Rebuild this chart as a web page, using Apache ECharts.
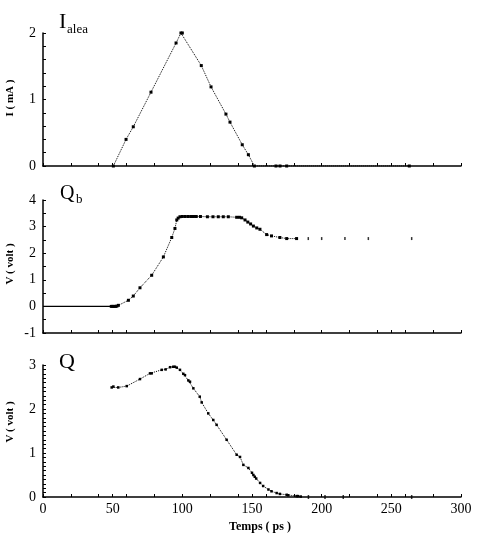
<!DOCTYPE html>
<html><head><meta charset="utf-8">
<script src="https://cdn.jsdelivr.net/npm/echarts@6/dist/echarts.min.js"></script>
<style>html,body{margin:0;padding:0;background:#fff}#c{width:477px;height:536px}</style>
</head><body><div id="c"></div>
<script>
// Top panel: I_alea (mA) vs time (ps)
var ialeaX = [50.5, 59.6, 64.8, 77.5, 95.5, 99, 100, 113.6, 120.6, 131.3, 134.2, 143, 147.4, 151.7, 167.2, 170.1, 174.9, 262.9];
var ialeaY = [0, 0.4, 0.59, 1.11, 1.85, 2.0, 2.0, 1.51, 1.19, 0.78, 0.66, 0.32, 0.17, 0, 0, 0, 0, 0];
// Middle panel: Qb (V)
var qbBaseX = [0, 50];
var qbBaseY = [0, 0];
var qbX = [49, 50, 51, 52, 53, 54.1, 61.3, 64.8, 69.6, 78, 86.4, 92.4, 94.7, 96, 97, 98.3, 100, 102, 104, 106, 108, 110, 113, 118, 122, 125.8, 129.4, 133, 139, 141, 142.6, 145, 147, 149, 151, 153.4, 155.7, 160.5, 164, 170, 174.9, 182];
var qbY = [0, 0, 0, 0, 0.01, 0.04, 0.23, 0.39, 0.70, 1.17, 1.86, 2.59, 2.93, 3.25, 3.32, 3.37, 3.38, 3.38, 3.38, 3.38, 3.38, 3.38, 3.38, 3.37, 3.37, 3.37, 3.37, 3.37, 3.35, 3.35, 3.33, 3.25, 3.17, 3.10, 3.02, 2.95, 2.90, 2.70, 2.65, 2.59, 2.55, 2.55];
var qbTailX = [190.4, 200, 216.7, 233.5, 264.6];
var qbTailY = [2.55, 2.55, 2.55, 2.55, 2.55];
// Bottom panel: Q (V)
var qX = [49.3, 50.5, 54, 60.1, 69.6, 76.8, 78, 85.2, 88, 91.2, 93.5, 94.7, 96, 98.3, 100.7, 101.9, 104.3, 105.5, 107.9, 112.5, 113.9, 118.6, 122.2, 124.6, 131.8, 139, 141.4, 143.8, 147.4, 150, 151, 152, 153, 155.8, 158, 161.8, 164, 167.7, 170, 174.9, 176, 182.1, 183, 185];
var qY = [2.49, 2.51, 2.49, 2.52, 2.68, 2.81, 2.81, 2.89, 2.90, 2.95, 2.96, 2.96, 2.94, 2.89, 2.80, 2.77, 2.65, 2.62, 2.47, 2.28, 2.15, 1.90, 1.75, 1.64, 1.30, 0.96, 0.91, 0.73, 0.66, 0.55, 0.50, 0.46, 0.42, 0.32, 0.25, 0.17, 0.13, 0.09, 0.07, 0.05, 0.04, 0.02, 0.02, 0.01];
var qTailX = [190.5, 202.4, 215.5, 264.6];
var qTailY = [0, 0, 0, 0];
// Axis ticks
var xTickLabels = [0, 50, 100, 150, 200, 250, 300];
var yTop = {min: 0, max: 2, minor: 5};
var yMid = {min: -1, max: 4, minor: 2};
var yBot = {min: 0, max: 3, minor: 10};

function zip(a, b) { return a.map(function (v, i) { return [v, b[i]]; }); }

var FONT = "'Liberation Serif','Times New Roman',serif";
var grids = [
  {left: 43, right: 16, top: 33, height: 133},
  {left: 43, right: 16, top: 200, height: 133},
  {left: 43, right: 16, top: 365, height: 132}
];
var xAxes = [], yAxes = [];
var yDefs = [yTop, yMid, yBot];
for (var g = 0; g < 3; g++) {
  xAxes.push({
    type: 'value', gridIndex: g, min: 0, max: 300, interval: 20, position: 'bottom',
    axisLine: {onZero: false, lineStyle: {color: '#000', width: 1.5}},
    axisTick: {inside: true, length: 3, lineStyle: {color: '#000'}},
    axisLabel: {show: false}, splitLine: {show: false}
  });
  xAxes.push({
    type: 'value', gridIndex: g, min: 0, max: 300, interval: 50, position: 'bottom', offset: 0,
    axisLine: {show: false, onZero: false},
    axisTick: {inside: true, length: 3, lineStyle: {color: '#000'}},
    axisLabel: {show: g === 2, color: '#000', fontFamily: FONT, fontSize: 14, margin: 5,
      formatter: function (v) { return xTickLabels.indexOf(v) >= 0 ? String(v) : ''; }},
    splitLine: {show: false}
  });
  yAxes.push({
    type: 'value', gridIndex: g, min: yDefs[g].min, max: yDefs[g].max, interval: 1,
    axisLine: {show: true, onZero: false, lineStyle: {color: '#000', width: 1.5}},
    axisTick: {inside: true, length: 3, lineStyle: {color: '#000'}},
    minorTick: {show: true, splitNumber: yDefs[g].minor, length: 3, lineStyle: {color: '#000'}},
    axisLabel: {color: '#000', fontFamily: FONT, fontSize: 14, margin: 7},
    splitLine: {show: false}
  });
}

var dotLine = {type: 'dotted', width: 1, color: '#000'};
var series = [
  {type: 'line', xAxisIndex: 0, yAxisIndex: 0, data: zip(ialeaX, ialeaY), showAllSymbol: true,
   symbol: 'rect', symbolSize: 3, lineStyle: dotLine, itemStyle: {color: '#000'}},
  {type: 'line', xAxisIndex: 2, yAxisIndex: 1, data: zip(qbBaseX, qbBaseY), symbol: 'none',
   lineStyle: {type: 'solid', width: 1.2, color: '#000'}},
  {type: 'line', xAxisIndex: 2, yAxisIndex: 1, data: zip(qbX, qbY), showAllSymbol: true,
   symbol: 'rect', symbolSize: 3, lineStyle: dotLine, itemStyle: {color: '#000'}},
  {type: 'scatter', xAxisIndex: 2, yAxisIndex: 1, data: zip(qbTailX, qbTailY),
   symbol: 'rect', symbolSize: [1.5, 3], itemStyle: {color: '#000'}},
  {type: 'line', xAxisIndex: 4, yAxisIndex: 2, data: zip(qX, qY), showAllSymbol: true,
   symbol: 'rect', symbolSize: 2.5, lineStyle: dotLine, itemStyle: {color: '#000'}},
  {type: 'scatter', xAxisIndex: 4, yAxisIndex: 2, data: zip(qTailX, qTailY),
   symbol: 'rect', symbolSize: [1.5, 4], itemStyle: {color: '#000'}}
];

function txt(x, y, s, size, extra) {
  var st = {text: s, fill: '#000', font: size + 'px ' + FONT, textVerticalAlign: 'top'};
  if (extra) for (var k in extra) st[k] = extra[k];
  return {type: 'text', x: x, y: y, style: st, z: 100};
}
function vtxt(cx, cy, s) {
  return {type: 'text', x: cx, y: cy, rotation: Math.PI / 2,
    style: {text: s, fill: '#000', font: 'bold 11px ' + FONT, textAlign: 'center', textVerticalAlign: 'middle'}, z: 100};
}

var chart = echarts.init(document.getElementById('c'), null, {renderer: 'canvas'});
chart.setOption({
  animation: false,
  backgroundColor: '#fff',
  grid: grids,
  xAxis: xAxes,
  yAxis: yAxes,
  series: series,
  graphic: [
    txt(59, 11, 'I', 22),
    txt(67, 23, 'alea', 13),
    txt(60, 184, 'Q', 20),
    txt(76, 193, 'b', 13),
    txt(59, 351, 'Q', 22),
    vtxt(10, 98, 'I ( mA )'),
    vtxt(10, 264, 'V ( volt )'),
    vtxt(10, 422, 'V ( volt )'),
    {type: 'text', x: 260, y: 527, style: {text: 'Temps ( ps )', fill: '#000', font: 'bold 12px ' + FONT, textAlign: 'center', textVerticalAlign: 'middle'}, z: 100}
  ]
});
</script></body></html>
